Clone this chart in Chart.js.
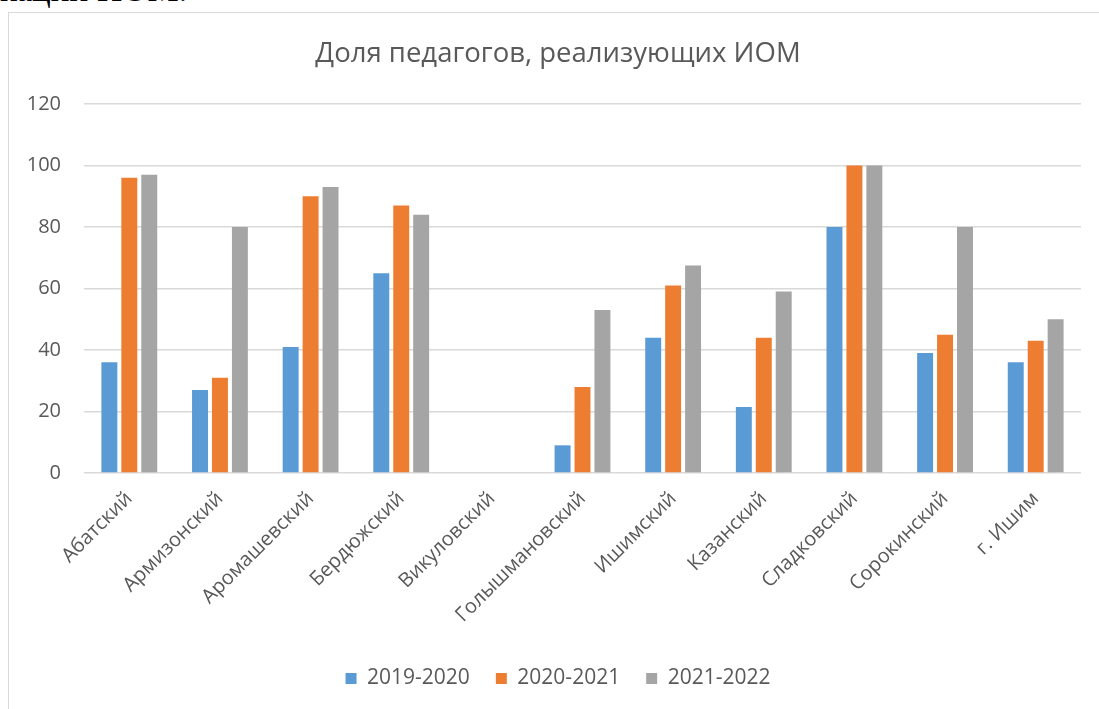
<!DOCTYPE html>
<html lang="ru">
<head>
<meta charset="utf-8">
<script src="https://cdn.jsdelivr.net/npm/chart.js@4.4.1/dist/chart.umd.min.js"></script>
<style>
  html, body { margin: 0; padding: 0; background: #fff; overflow: hidden; }
  body { width: 1099px; height: 709px; position: relative; }
  #docText {
    position: absolute; left: 0; top: -28px;
    font-family: 'Liberation Serif', 'Times New Roman', serif;
    font-size: 35px; line-height: 35px; color: #000; white-space: nowrap;
  }
  #frame {
    position: absolute; left: 8px; top: 12px;
    width: 1110px; height: 720px;
    border: 1px solid #d9d9d9; background: #fff;
  }
  #chartBox { position: absolute; left: 0; top: 0; width: 1098px; height: 696px; }
</style>
</head>
<body>
<div id="docText">кации ИОМ.</div>
<div id="frame">
  <div id="chartBox"><canvas id="iomChart"></canvas></div>
</div>
<script>
const districts = [
    'Абатский', 'Армизонский', 'Аромашевский', 'Бердюжский', 'Викуловский',
    'Голышмановский', 'Ишимский', 'Казанский', 'Сладковский', 'Сорокинский', 'г. Ишим'
];
const years = ['2019-2020', '2020-2021', '2021-2022'];
const share2019 = [36, 27, 41, 65, null, 9, 44, 21.5, 80, 39, 36];
const share2020 = [96, 31, 90, 87, null, 28, 61, 44, 100, 45, 43];
const share2021 = [97, 80, 93, 84, null, 53, 67.5, 59, 100, 80, 50];
const yTicks = [0, 20, 40, 60, 80, 100, 120];

const colors = ['#5b9bd5', '#ed7d31', '#a5a5a5'];
const textColor = '#595959';
const gridColor = '#d9d9d9';
const fontFamily = "'Open Sans', 'Noto Sans', sans-serif";

Chart.defaults.font.family = fontFamily;
Chart.defaults.color = textColor;

const ctx = document.getElementById('iomChart').getContext('2d');

new Chart(ctx, {
    type: 'bar',
    data: {
        labels: districts,
        datasets: [share2019, share2020, share2021].map((values, i) => ({
            label: years[i],
            data: values,
            backgroundColor: colors[i],
            borderWidth: 0,
            categoryPercentage: 0.66,
            barPercentage: 0.8
        }))
    },
    options: {
        responsive: true,
        maintainAspectRatio: false,
        animation: false,
        layout: {
            padding: { top: 25, right: 0, bottom: 10, left: 0 }
        },
        plugins: {
            title: {
                display: true,
                text: 'Доля педагогов, реализующих ИОМ',
                color: textColor,
                font: { size: 27.5, weight: 'normal' },
                padding: { top: 0, bottom: 33 }
            },
            legend: {
                position: 'bottom',
                labels: {
                    boxWidth: 11,
                    boxHeight: 11,
                    padding: 26,
                    color: textColor,
                    font: { size: 21 }
                }
            },
            tooltip: { enabled: false }
        },
        scales: {
            x: {
                grid: { display: false },
                border: { display: false },
                ticks: {
                    autoSkip: false,
                    minRotation: 45,
                    maxRotation: 45,
                    padding: 6,
                    color: textColor,
                    font: { size: 20 }
                },
                afterFit: scale => { scale.height = 169; }
            },
            y: {
                min: 0,
                max: 120,
                grid: { color: gridColor, lineWidth: 1.5, drawTicks: false },
                border: { display: false },
                afterBuildTicks: scale => {
                    scale.ticks = yTicks.map(v => ({ value: v }));
                },
                ticks: {
                    padding: 23,
                    color: textColor,
                    font: { size: 20 }
                },
                afterFit: scale => { scale.width = 75; }
            },
            // empty right-hand spacer so the plot ends where the original does
            spacer: {
                type: 'linear',
                position: 'right',
                grid: { display: false },
                border: { display: false },
                ticks: { display: false },
                afterFit: scale => { scale.width = 26; }
            }
        }
    }
});
</script>
</body>
</html>
